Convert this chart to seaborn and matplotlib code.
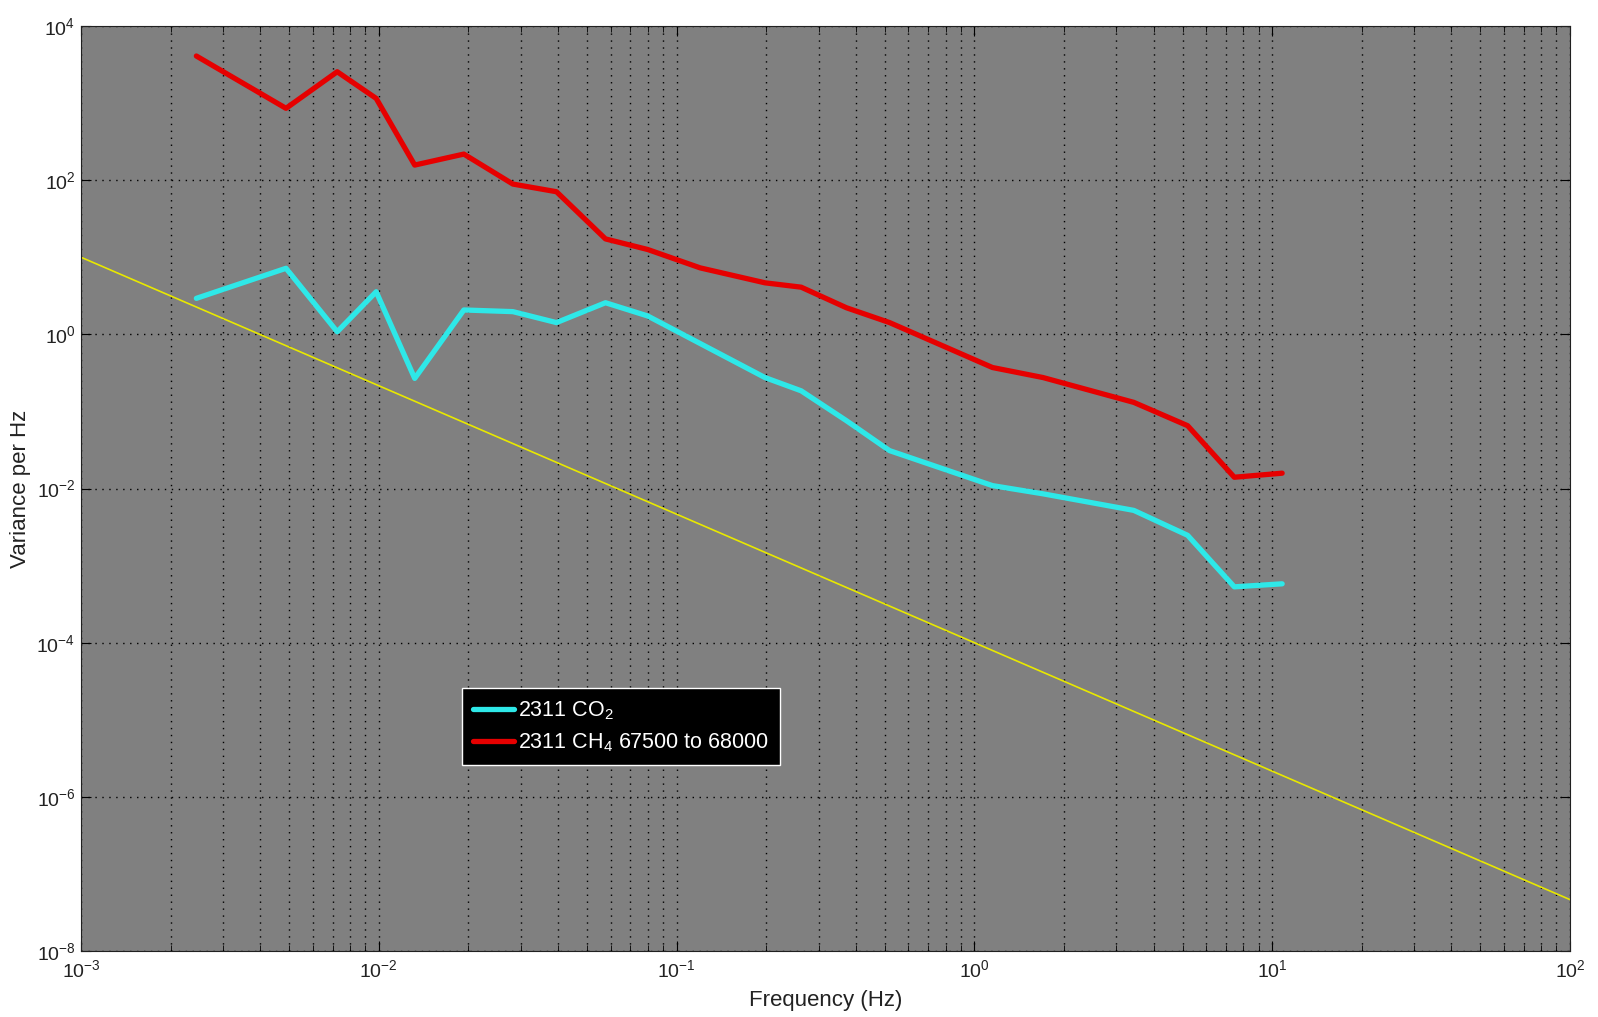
import numpy as np
import pandas as pd
import seaborn as sns
import matplotlib
matplotlib.use("Agg")
import matplotlib.pyplot as plt
from matplotlib.ticker import LogLocator, FixedLocator, NullLocator, FixedFormatter

# frequencies (Hz), shared by both spectra
freq = [0.00244, 0.00488, 0.00725, 0.0098, 0.0132, 0.0193, 0.0282, 0.0395, 0.0577,
        0.080, 0.120, 0.198, 0.262, 0.372, 0.519, 1.15, 1.70, 3.43, 5.2, 7.46, 10.8]
co2 = [2.93, 7.19, 1.08, 3.57, 0.268, 2.07, 1.97, 1.42, 2.57,
       1.73, 0.76, 0.275, 0.185, 0.0757, 0.031, 0.0109, 0.00853, 0.0052, 0.00247, 0.00053, 0.00058]
ch4 = [4080, 855, 2550, 1150, 157, 218, 89, 70.8, 17.3,
       12.6, 7.28, 4.66, 4.09, 2.21, 1.42, 0.371, 0.275, 0.131, 0.0653, 0.0140, 0.0158]
# -5/3 reference slope, end points
ref_f = [1e-3, 1e2]
ref_v = [10.0, 4.64e-8]

xticks = [1e-3, 1e-2, 1e-1, 1e0, 1e1, 1e2]
xtick_labels = ["$10^{-3}$", "$10^{-2}$", "$10^{-1}$", "$10^{0}$", "$10^{1}$", "$10^{2}$"]
yticks = [1e-8, 1e-6, 1e-4, 1e-2, 1e0, 1e2, 1e4]
ytick_labels = ["$10^{-8}$", "$10^{-6}$", "$10^{-4}$", "$10^{-2}$", "$10^{0}$", "$10^{2}$", "$10^{4}$"]

sns.set_style("ticks", {"axes.facecolor": "#808080", "axes.edgecolor": "#202020"})
plt.rcParams['font.family'] = ['Liberation Sans', 'DejaVu Sans']
plt.rcParams['mathtext.default'] = 'regular'

df = pd.DataFrame({"f": freq, "co2": co2, "ch4": ch4})

fig = plt.figure(figsize=(15.98, 10.17), dpi=100)
ax = fig.add_axes([81/1598, 1-951/1017, 1489/1598, 925/1017])

sns.lineplot(x=ref_f, y=ref_v, ax=ax, color="#e8e800", lw=1.2, label="_nolegend_")
sns.lineplot(data=df, x="f", y="co2", ax=ax, color="#2ee8e8", lw=3.8, label="2311 CO$_2$")
sns.lineplot(data=df, x="f", y="ch4", ax=ax, color="#e60000", lw=3.8, label="2311 CH$_4$ 67500 to 68000")

ax.set_xscale("log")
ax.set_yscale("log")
ax.set_xlim(1e-3, 1e2)
ax.set_ylim(1e-8, 1e4)

ax.xaxis.set_major_locator(FixedLocator(xticks))
ax.xaxis.set_major_formatter(FixedFormatter(xtick_labels))
ax.xaxis.set_minor_locator(LogLocator(base=10, subs=np.arange(2, 10), numticks=50))
ax.yaxis.set_major_locator(FixedLocator(yticks))
ax.yaxis.set_major_formatter(FixedFormatter(ytick_labels))
ax.yaxis.set_minor_locator(NullLocator())

ax.tick_params(which="both", direction="in", top=True, right=True, color="black")
ax.tick_params(which="major", length=7, labelsize=14, labelcolor="#222222")
ax.tick_params(axis="x", which="major", pad=6)
ax.tick_params(axis="y", which="major", pad=4)
ax.tick_params(which="minor", length=4)

ax.grid(True, which="major", color="black", linestyle=(0, (1, 4)), lw=1)
ax.grid(True, which="minor", axis="x", color="black", linestyle=(0, (1, 4)), lw=1)

ax.set_xlabel("Frequency (Hz)", fontsize=16, color="#222222", labelpad=6)
ax.set_ylabel("Variance per Hz", fontsize=16, color="#222222", labelpad=4)

leg = ax.legend(loc="upper left", bbox_to_anchor=(0.256, 0.284), borderaxespad=0,
                fontsize=15.5, frameon=True, fancybox=False, handlelength=1.9,
                handletextpad=0.2, labelspacing=0.45, borderpad=0.5)
leg.get_frame().set_facecolor("black")
leg.get_frame().set_edgecolor("white")
leg.get_frame().set_alpha(1)
for t in leg.get_texts():
    t.set_color("white")

fig.savefig("out.png", dpi=100, facecolor="white")
